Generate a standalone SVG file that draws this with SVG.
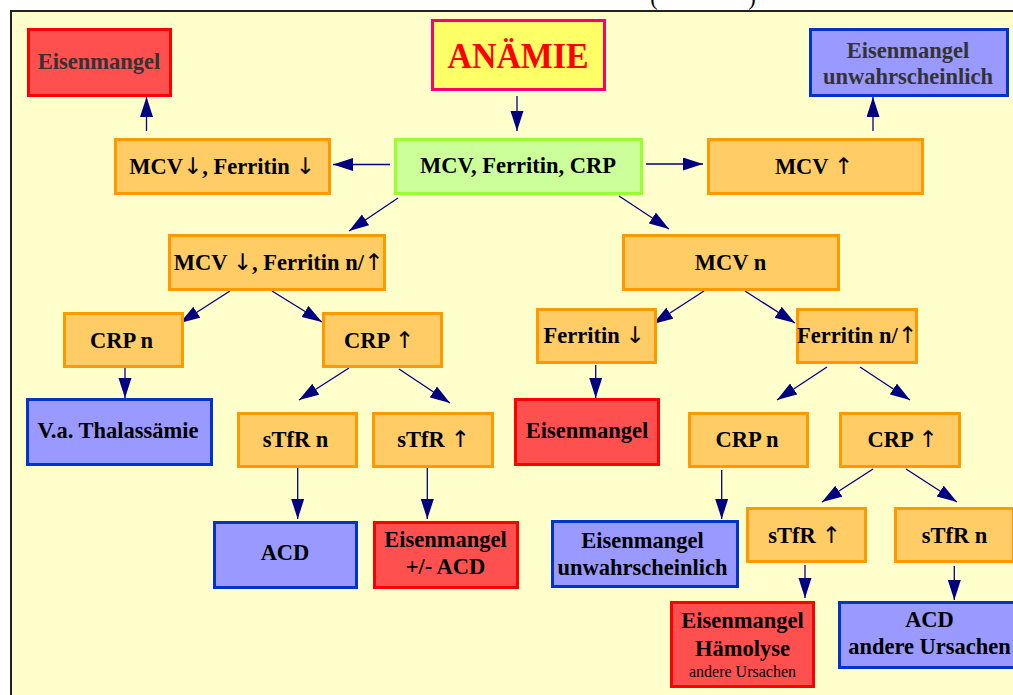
<svg xmlns="http://www.w3.org/2000/svg" width="1013" height="695" viewBox="0 0 1013 695">
<style>
text{font-family:"Liberation Serif","Times New Roman",serif;font-weight:bold;font-size:22.5px;text-anchor:middle;fill:#000}
.ar{font-family:"DejaVu Sans",sans-serif;font-weight:normal;font-size:23px}
.o{fill:#FFCC66;stroke:#FF9900;stroke-width:3}
.b{fill:#9999FF;stroke:#0033CC;stroke-width:3}
.r{fill:#FF5050;stroke:#FF0000;stroke-width:3}
.g{fill:#CCFF99;stroke:#99FF33;stroke-width:3}
.y{fill:#FFFF66;stroke:#FF0066;stroke-width:3}
.gr{fill:#333333}
.sm{font-weight:normal;font-size:16px}
#connectors line{stroke:#000080;stroke-width:1.3;marker-end:url(#ah)}
</style>
<defs>
<marker id="ah" markerUnits="userSpaceOnUse" markerWidth="20" markerHeight="14" refX="20" refY="6.5" orient="auto">
<path d="M0,0 L20,6.5 L0,13 z" fill="#000080"/>
</marker>
</defs>
<rect width="1013" height="695" fill="#FFFFFF"/>
<text x="654" y="5" style="font-weight:normal">(</text>
<text x="752" y="5" style="font-weight:normal">)</text>
<rect x="11" y="11" width="1012" height="700" fill="#FFFFCC" stroke="#222222" stroke-width="2"/>

<g id="connectors">
<line x1="517" y1="96" x2="517" y2="131"/>
<line x1="390" y1="164.5" x2="333" y2="164.5"/>
<line x1="646" y1="164" x2="703" y2="164"/>
<line x1="146.5" y1="131" x2="146.5" y2="97"/>
<line x1="873" y1="131" x2="873" y2="97"/>
<line x1="398" y1="198" x2="349" y2="231"/>
<line x1="619" y1="196" x2="669" y2="229"/>
<line x1="230" y1="291" x2="180" y2="323"/>
<line x1="272" y1="291" x2="322" y2="322"/>
<line x1="125" y1="367" x2="125" y2="398"/>
<line x1="349" y1="368" x2="299" y2="400"/>
<line x1="399" y1="369" x2="450" y2="403"/>
<line x1="297.7" y1="468" x2="297.7" y2="519"/>
<line x1="427.3" y1="468" x2="427.3" y2="519"/>
<line x1="704" y1="291" x2="653" y2="324"/>
<line x1="745" y1="291" x2="795" y2="323"/>
<line x1="595.7" y1="365" x2="595.7" y2="398"/>
<line x1="827" y1="367" x2="777" y2="400"/>
<line x1="860" y1="367" x2="910" y2="400"/>
<line x1="721.7" y1="470" x2="721.7" y2="519"/>
<line x1="873" y1="469" x2="822" y2="502"/>
<line x1="906" y1="469" x2="957" y2="502"/>
<line x1="805" y1="565" x2="805" y2="598"/>
<line x1="954.3" y1="566" x2="954.3" y2="600"/>
</g>

<g id="n-eisen1"><rect class="r" x="28.5" y="29.5" width="142" height="66"/><text class="gr" x="99" y="69">Eisenmangel</text></g>
<g id="n-anaemie"><rect class="y" x="432.5" y="20.5" width="172" height="69"/><text x="518" y="68" style="font-size:36px;fill:#FF0000" textLength="141" lengthAdjust="spacingAndGlyphs">ANÄMIE</text></g>
<g id="n-unwahr1"><rect class="b" x="810.5" y="29.5" width="197" height="66"/><text class="gr" x="908" y="57.5">Eisenmangel</text><text class="gr" x="908" y="83.5">unwahrscheinlich</text></g>

<g id="n-mcvdown"><rect class="o" x="115.5" y="139.5" width="214" height="54"/><text x="222" y="174">MCV<tspan class="ar">↓</tspan>, Ferritin <tspan class="ar">↓</tspan></text></g>
<g id="n-start"><rect class="g" x="395.5" y="139.5" width="246" height="54"/><text x="518" y="173">MCV, Ferritin, CRP</text></g>
<g id="n-mcvup"><rect class="o" x="708.5" y="139.5" width="214" height="54"/><text x="814" y="174">MCV <tspan class="ar">↑</tspan></text></g>

<g id="n-mcvdown2"><rect class="o" x="169.5" y="235.5" width="215" height="54"/><text x="278.5" y="270">MCV <tspan class="ar">↓</tspan>, Ferritin n/<tspan class="ar">↑</tspan></text></g>
<g id="n-mcvn"><rect class="o" x="623.5" y="235.5" width="215" height="54"/><text x="730.5" y="270">MCV n</text></g>

<g id="n-crpn1"><rect class="o" x="64.5" y="313.5" width="118" height="53"/><text x="121.5" y="348">CRP n</text></g>
<g id="n-crpup1"><rect class="o" x="323.5" y="313.5" width="118" height="53"/><text x="379" y="348">CRP <tspan class="ar">↑</tspan></text></g>
<g id="n-thal"><rect class="b" x="27.5" y="399.5" width="184" height="65"/><text x="118" y="438">V.a. Thalassämie</text></g>
<g id="n-stfrn1"><rect class="o" x="238.5" y="413.5" width="118" height="53"/><text x="295.5" y="447">sTfR n</text></g>
<g id="n-stfrup1"><rect class="o" x="373.5" y="413.5" width="119" height="53"/><text x="433.5" y="447">sTfR <tspan class="ar">↑</tspan></text></g>
<g id="n-acd1"><rect class="b" x="214.5" y="522.5" width="142" height="65"/><text x="285" y="560">ACD</text></g>
<g id="n-eisen2"><rect class="r" x="374.5" y="522.5" width="143" height="65"/><text x="445.5" y="546.7">Eisenmangel</text><text x="445.5" y="574">+/- ACD</text></g>

<g id="n-ferrdown"><rect class="o" x="537.5" y="309.5" width="118" height="53"/><text x="594" y="343">Ferritin <tspan class="ar">↓</tspan></text></g>
<g id="n-ferrup"><rect class="o" x="797.5" y="309.5" width="119" height="53"/><text x="857" y="343">Ferritin n/<tspan class="ar">↑</tspan></text></g>
<g id="n-eisen3"><rect class="r" x="515.5" y="399.5" width="143" height="65"/><text x="587" y="438">Eisenmangel</text></g>
<g id="n-crpn2"><rect class="o" x="689.5" y="413.5" width="118" height="53"/><text x="747" y="447">CRP n</text></g>
<g id="n-crpup2"><rect class="o" x="840.5" y="413.5" width="119" height="53"/><text x="902.5" y="447">CRP <tspan class="ar">↑</tspan></text></g>
<g id="n-unwahr2"><rect class="b" x="552.5" y="521.5" width="185" height="65"/><text x="642.5" y="548.3">Eisenmangel</text><text x="642.5" y="575">unwahrscheinlich</text></g>
<g id="n-stfrup2"><rect class="o" x="747.5" y="508.5" width="118" height="53"/><text x="804.5" y="543">sTfR <tspan class="ar">↑</tspan></text></g>
<g id="n-stfrn2"><rect class="o" x="895.5" y="508.5" width="118" height="53"/><text x="954.5" y="543">sTfR n</text></g>
<g id="n-eisen4"><rect class="r" x="671.5" y="602.5" width="142" height="84"/><text x="742.5" y="628">Eisenmangel</text><text x="742.5" y="656">Hämolyse</text><text class="sm" x="742.5" y="677">andere Ursachen</text></g>
<g id="n-acd2"><rect class="b" x="839.5" y="602.5" width="180" height="65"/><text x="929.5" y="627">ACD</text><text x="929.5" y="654">andere Ursachen</text></g>
</svg>
